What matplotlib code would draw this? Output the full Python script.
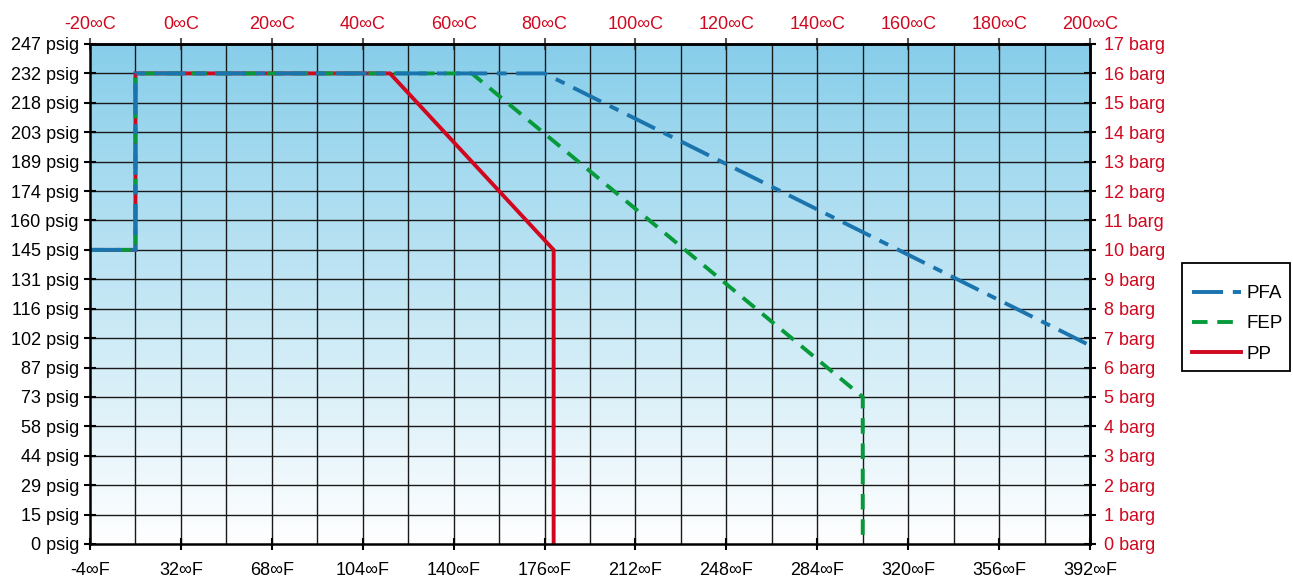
import numpy as np
import matplotlib
matplotlib.use("Agg")
import matplotlib.pyplot as plt
from matplotlib.colors import LinearSegmentedColormap
from matplotlib.patches import Rectangle

plt.rcParams['font.family'] = ['Liberation Sans', 'DejaVu Sans']

# ---- data ----
celsius_ticks = list(range(-20, 201, 20))
celsius_labels = [f"{c}∞C" for c in celsius_ticks]
fahrenheit_labels = [f"{round(c * 9 / 5 + 32)}∞F" for c in celsius_ticks]
barg_ticks = list(range(0, 18))
barg_labels = [f"{b} barg" for b in barg_ticks]
psig_labels = [f"{v} psig" for v in [0, 15, 29, 44, 58, 73, 87, 102, 116, 131,
                                     145, 160, 174, 189, 203, 218, 232, 247]]

pfa_t = [-20, -10, -10, 80, 200]
pfa_p = [10, 10, 16, 16, 6.75]
fep_t = [-20, -10, -10, 64, 150, 150]
fep_p = [10, 10, 16, 16, 5, 0]
pp_t = [-20, -10, -10, 46, 82, 82]
pp_p = [10, 10, 16, 16, 10, 0]

c_pfa = '#1a74ae'
c_fep = '#069a3a'
c_pp = '#d0071e'
fs = 13

W, H = 1293, 587
fig = plt.figure(figsize=(W / 100, H / 100), dpi=100)
ax = fig.add_axes([90 / W, 43 / H, 1000 / W, 500 / H])

# background gradient
cmap = LinearSegmentedColormap.from_list('bg', ['#ffffff', '#87ceea'])
grad = np.linspace(0, 1, 256).reshape(-1, 1)
ax.imshow(grad, extent=[-20, 200, 0, 17], origin='lower', aspect='auto',
          cmap=cmap, zorder=0)

ax.set_xlim(-20, 200)
ax.set_ylim(0, 17)

# grid
for x in range(-10, 200, 10):
    ax.axvline(x, color='#1a1a1a', lw=1.0, zorder=1)
for y in range(1, 17):
    ax.axhline(y, color='#1a1a1a', lw=1.0, zorder=1)

lw = 2.8
ax.plot(pp_t, pp_p, color=c_pp, lw=lw, zorder=3, label='PP', solid_joinstyle='miter')
ax.plot(fep_t, fep_p, color=c_fep, lw=lw, zorder=4, label='FEP', dashes=(4, 2.5))
ax.plot(pfa_t, pfa_p, color=c_pfa, lw=lw, zorder=5, label='PFA', dashes=(8, 2.5, 2.5, 2.5))

# axes ticks / labels
ax.set_xticks(celsius_ticks)
ax.set_xticklabels(fahrenheit_labels, fontsize=fs)
ax.set_yticks(barg_ticks)
ax.set_yticklabels(psig_labels, fontsize=fs)
ax.tick_params(direction='inout', length=8, width=1.5, pad=4)
ax.tick_params(axis='x', pad=9)

secx = ax.secondary_xaxis('top')
secx.set_xticks(celsius_ticks)
secx.set_xticklabels(celsius_labels, fontsize=fs, color=c_pp)
secx.tick_params(direction='inout', length=8, width=1.5, pad=4, color='#555555')

secy = ax.secondary_yaxis('right')
secy.set_yticks(barg_ticks)
secy.set_yticklabels(barg_labels, fontsize=fs, color=c_pp)
secy.tick_params(direction='inout', length=8, width=1.5, pad=6)

for s in ax.spines.values():
    s.set_linewidth(1.8)
    s.set_zorder(6)
for s in list(secx.spines.values()) + list(secy.spines.values()):
    s.set_linewidth(1.8)

# legend box (frame drawn separately)
fig.patches.append(Rectangle((1182 / W, 1 - 371 / H), 108 / W, 108 / H,
                             transform=fig.transFigure, fill=False,
                             edgecolor='black', lw=1.3))
handles, labels = ax.get_legend_handles_labels()
order = [2, 1, 0]
leg = fig.legend([handles[i] for i in order], [labels[i] for i in order],
                 loc='upper left', bbox_to_anchor=(1192 / W, 1 - 285 / H),
                 fontsize=13.5, frameon=False,
                 handlelength=2.6, handletextpad=0.3, borderpad=0,
                 labelspacing=0.7, borderaxespad=0)

fig.savefig('out.png', dpi=100)
